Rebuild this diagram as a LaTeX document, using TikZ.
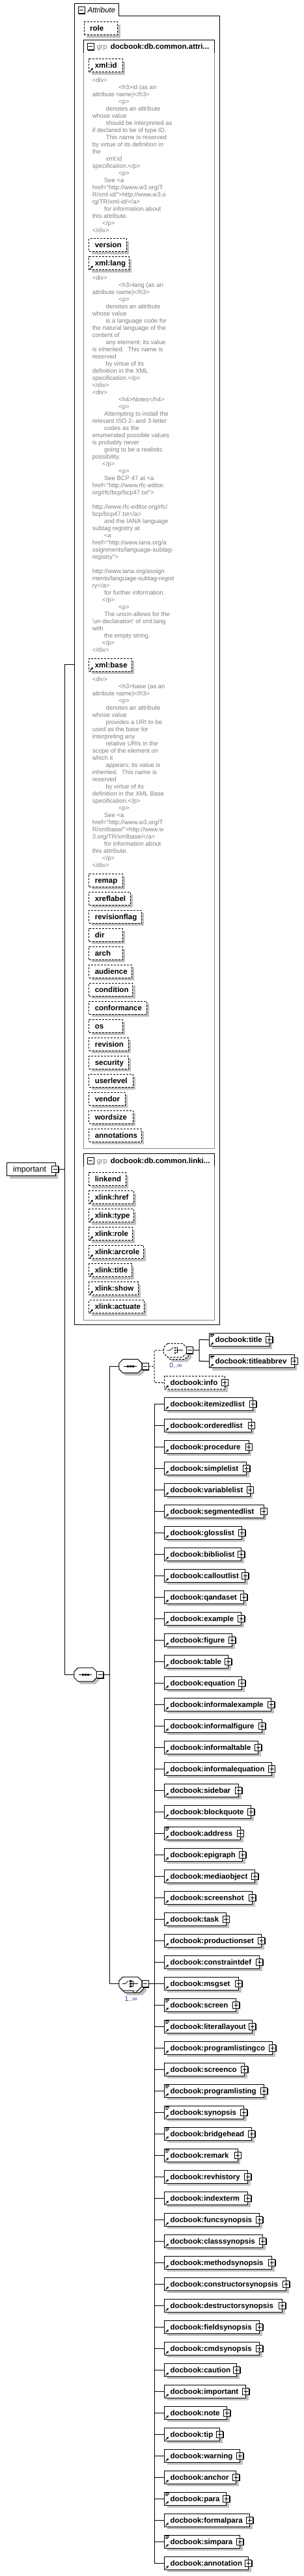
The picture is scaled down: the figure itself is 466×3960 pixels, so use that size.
\documentclass[tikz,border=0pt]{standalone}
\usepackage{fontspec}
\newfontfamily\arialf{Liberation Sans}
\usetikzlibrary{shadows,arrows.meta}
\definecolor{shgray}{RGB}{192,192,192}
\definecolor{anngray}{RGB}{128,128,128}
\definecolor{grpgray}{RGB}{136,136,136}
\definecolor{multcol}{RGB}{64,64,128}
\newcount\annc
\def\anny{0}
\def\iA{40.4}\def\iB{20.7}\def\iC{18.3}\def\iD{15.4}
\newcommand{\annstart}[1]{\def\anny{#1}}
\newcommand{\al}[2]{\global\advance\annc by 1\relax
  \node[ann] (ann\the\annc) at ({141.3+#1},{\anny+3.3}) {#2};%
  \pgfmathsetmacro\anny{\anny+11}}
\newcommand{\refarr}[1]{\draw[line width=1.1pt,-{Triangle[length=2.6pt,width=3.2pt]}] ([shift={(2.2,-2.2)}]#1.south west) -- ++(4.4,-4.4);}
\newcommand{\txticon}[1]{\draw[line width=0.7pt] ([shift={(1.5,1.7)}]#1.north west) -- ++(6,0) ([shift={(1.5,3.4)}]#1.north west) -- ++(6,0) ([shift={(1.5,5.1)}]#1.north west) -- ++(4,0);}
\newcommand{\seqicon}[1]{\begin{scope}[shift={(#1.center)}]
 \draw[line width=0.8pt] (-10,0) -- (10,0);
 \foreach \q in {-4,0,4} \fill (\q-1.4,-1.4) rectangle (\q+1.4,1.4);
 \end{scope}}
\newcommand{\choiceicon}[1]{\begin{scope}[shift={(#1.center)}]
 \draw[line width=0.8pt] (-12.5,0) -- (-7.5,0) -- (-3,-4.5);
 \foreach \q in {-4,0,4} \fill (-1.3,\q-1.3) rectangle (1.3,\q+1.3);
 \draw[line width=0.8pt] (1.5,-4) -- (3.8,-4) -- (3.8,4) -- (1.5,4) (1.5,0) -- (11.5,0);
 \end{scope}}
\newcommand{\octpath}[2]{\path[draw=black,fill=white,#2] ([xshift=6pt]#1.north west) -- ([xshift=-6pt]#1.north east) -- ([yshift=-6pt]#1.north east) -- ([yshift=6pt]#1.south east) -- ([xshift=-6pt]#1.south east) -- ([xshift=6pt]#1.south west) -- ([yshift=6pt]#1.south west) -- ([yshift=-6pt]#1.north west) -- cycle;}
\begin{document}
\begin{tikzpicture}[x=1pt,y=-1pt,line width=1pt,
 shad/.style={drop shadow={shadow xshift=4pt,shadow yshift=-4pt,fill=shgray,opacity=1}},
 elembox/.style={draw=black,fill=white,shad,inner sep=0pt,minimum height=20pt,anchor=north west},
 attrbox/.style={elembox,dash pattern=on 3pt off 2pt},
 etext/.style={anchor=base west,inner sep=0pt,font=\arialf\bfseries\fontsize{11.5}{13}\selectfont},
 rtext/.style={anchor=base west,inner sep=0pt,font=\arialf\fontsize{11.5}{13}\selectfont},
 ann/.style={anchor=base west,inner sep=0pt,text=anngray,font=\arialf\fontsize{9.5}{11}\selectfont},
 pmbox/.style={draw=black,fill=white,inner sep=0pt,minimum size=10pt,line width=0.9pt,drop shadow={shadow xshift=1pt,shadow yshift=-1pt,fill=black,opacity=1}},
 plusbox/.style={pmbox,path picture={\draw[line width=0.9pt] ([xshift=-3.2pt]path picture bounding box.center) -- ([xshift=3.2pt]path picture bounding box.center) ([yshift=-3.2pt]path picture bounding box.center) -- ([yshift=3.2pt]path picture bounding box.center);}},
 minusbox/.style={pmbox,path picture={\draw[line width=0.9pt] ([xshift=-3.2pt]path picture bounding box.center) -- ([xshift=3.2pt]path picture bounding box.center);}},
 octanchor/.style={inner sep=0pt,minimum width=34pt,minimum height=20pt},
 dsh/.style={dash pattern=on 3pt off 2pt},
 mult/.style={inner sep=0pt,text=multcol,font=\arialf\fontsize{10.5}{12}\selectfont},
]
\fill[white] (0,0) rectangle (466,3960);
\useasboundingbox (0,0) rectangle (466,3960);

% ---------- Attribute container ----------
\draw (114.3,2036.3) -- (114.3,5.3) -- (182.7,5.3) -- (182.7,24.3) -- (337.7,24.3) -- (337.7,2036.3) -- cycle;
\node[minusbox] (attm) at (125,15.7) {};
\node[rtext,font=\arialf\itshape\fontsize{11.5}{13}\selectfont] (attl) at (134,19.7) {Attribute};
\node[attrbox,minimum width=51.3pt] (role) at (128.7,33.3) {};
\node[etext] (rolet) at (137.7,47.7) {role};

% grp 1
\draw[grpgray] (128.7,81) -- (128.7,1765.3) -- (329.7,1765.3) -- (329.7,81);
\draw (128.7,81) -- (128.7,61.3) -- (329.7,61.3) -- (329.7,81);
\node[minusbox] (g1m) at (139,71.8) {};
\node[rtext,text=anngray,font=\arialf\fontsize{11}{13}\selectfont] (g1k) at (148.3,75.5) {grp};
\node[etext] (g1t) at (169.3,75.5) {docbook:db.common.attri...};

% grp 2
\draw[grpgray] (128.7,1792.7) -- (128.7,2029.3) -- (329.7,2029.3) -- (329.7,1792.7);
\draw (128.7,1792.7) -- (128.7,1773.7) -- (329.7,1773.7) -- (329.7,1792.7);
\node[minusbox] (g2m) at (139,1784.2) {};
\node[rtext,text=anngray,font=\arialf\fontsize{11}{13}\selectfont] (g2k) at (148.3,1788) {grp};
\node[etext] (g2t) at (169.3,1788) {docbook:db.common.linki...};

\foreach \ya/\rx/\nm/\fl [count=\i] in {
90.3/187.7/xml:id/1, 366.3/193.7/version/0, 394.3/197.7/xml:lang/1, 1011.7/201.7/xml:base/1,
1342.7/187.7/remap/0, 1370.7/199.7/xreflabel/0, 1398.7/216.7/revisionflag/0, 1426.7/187.7/dir/0,
1454.7/187.7/arch/0, 1482.7/201.7/audience/0, 1510.7/203/condition/0, 1538.7/224.7/conformance/0,
1566.7/187.7/os/0, 1594.7/196.7/revision/0, 1622.7/196.7/security/0, 1650.7/203.7/userlevel/0,
1678.7/191.7/vendor/0, 1706.7/203.7/wordsize/0, 1734.7/216.7/annotations/0,
1802.3/192.7/linkend/0, 1830.3/204.7/xlink:href/1, 1858.3/204.7/xlink:type/1, 1886.3/202.7/xlink:role/1,
1914.3/219.7/xlink:arcrole/1, 1942.3/201.7/xlink:title/1, 1970.3/211.7/xlink:show/1, 1998.3/220.7/xlink:actuate/1}{
  \pgfmathsetmacro\w{\rx-136.3}
  \node[attrbox,minimum width=\w pt] (ab\i) at (136.3,\ya) {};
  \node[etext] (al\i) at (145.3,\ya+14.4) {\nm};
  \ifnum\fl=1 \refarr{ab\i}\fi
}

% ---------- annotations ----------
\annstart{122.7}
\al{0}{<div>}
\al{\iA}{<h3>id (as an}
\al{0}{attribute name)</h3>}
\al{\iA}{<p>}
\al{\iB}{denotes an attribute}
\al{0}{whose value}
\al{\iB}{should be interpreted as}
\al{0}{if declared to be of type ID.}
\al{\iB}{This name is reserved}
\al{0}{by virtue of its definition in}
\al{0}{the}
\al{\iB}{xml:id}
\al{0}{specification.</p>}
\al{\iA}{<p>}
\al{\iC}{See <a}
\al{0}{href="http://www.w3.org/T}
\al{0}{R/xml-id/">http://www.w3.o}
\al{0}{rg/TR/xml-id/</a>}
\al{\iC}{for information about}
\al{0}{this attribute.}
\al{\iD}{</p>}
\al{0}{</div>}

\annstart{426.7}
\al{0}{<div>}
\al{\iA}{<h3>lang (as an}
\al{0}{attribute name)</h3>}
\al{\iA}{<p>}
\al{\iB}{denotes an attribute}
\al{0}{whose value}
\al{\iB}{is a language code for}
\al{0}{the natural language of the}
\al{0}{content of}
\al{\iB}{any element; its value}
\al{0}{is inherited.~ This name is}
\al{0}{reserved}
\al{\iB}{by virtue of its}
\al{0}{definition in the XML}
\al{0}{specification.</p>}
\al{0}{</div>}
\al{0}{<div>}
\al{\iA}{<h4>Notes</h4>}
\al{\iA}{<p>}
\al{\iC}{Attempting to install the}
\al{0}{relevant ISO 2- and 3-letter}
\al{\iC}{codes as the}
\al{0}{enumerated possible values}
\al{0}{is probably never}
\al{\iC}{going to be a realistic}
\al{0}{possibility.}
\al{\iD}{</p>}
\al{\iA}{<p>}
\al{\iC}{See BCP 47 at <a}
\al{0}{href="http://www.rfc-editor.}
\al{0}{org/rfc/bcp/bcp47.txt">}
\al{0}{}
\al{0}{http://www.rfc-editor.org/rfc/}
\al{0}{bcp/bcp47.txt</a>}
\al{\iC}{and the IANA language}
\al{0}{subtag registry at}
\al{\iC}{<a}
\al{0}{href="http://www.iana.org/a}
\al{0}{ssignments/language-subtag-}
\al{0}{registry">}
\al{0}{}
\al{0}{http://www.iana.org/assign}
\al{0}{ments/language-subtag-regist}
\al{0}{ry</a>}
\al{\iC}{for further information.}
\al{\iD}{</p>}
\al{\iA}{<p>}
\al{\iC}{The union allows for the}
\al{0}{'un-declaration' of xml:lang}
\al{0}{with}
\al{\iC}{the empty string.}
\al{\iD}{</p>}
\al{0}{</div>}

\annstart{1043.7}
\al{0}{<div>}
\al{\iA}{<h3>base (as an}
\al{0}{attribute name)</h3>}
\al{\iA}{<p>}
\al{\iB}{denotes an attribute}
\al{0}{whose value}
\al{\iB}{provides a URI to be}
\al{0}{used as the base for}
\al{0}{interpreting any}
\al{\iB}{relative URIs in the}
\al{0}{scope of the element on}
\al{0}{which it}
\al{\iB}{appears; its value is}
\al{0}{inherited.~ This name is}
\al{0}{reserved}
\al{\iB}{by virtue of its}
\al{0}{definition in the XML Base}
\al{0}{specification.</p>}
\al{\iA}{<p>}
\al{\iC}{See <a}
\al{0}{href="http://www.w3.org/T}
\al{0}{R/xmlbase/">http://www.w}
\al{0}{3.org/TR/xmlbase/</a>}
\al{\iC}{for information about}
\al{0}{this attribute.}
\al{\iD}{</p>}
\al{0}{</div>}

% ---------- important ----------
\node[elembox,minimum width=74.4pt] (imp) at (10.3,1787) {};
\node[rtext,font=\arialf\fontsize{12.3}{14}\selectfont] (impl) at (19.3,1801.2) {important};
\node[minusbox] (impm) at (84.7,1797.3) {};

% ---------- sequence ----------
\node[octanchor] (seq) at (131.3,2574.3) {};
\octpath{seq}{shad}
\seqicon{seq}
\node[minusbox] (seqm) at (153.8,2574.5) {};

\node[octanchor] (sub) at (200.3,2100.2) {};
\octpath{sub}{shad}
\seqicon{sub}
\node[minusbox] (subm) at (223,2100.5) {};

% optional choice 0..inf
\node[octanchor] (optb) at (272.3,2079) {};
\octpath{optb}{dsh,shad}
\node[octanchor] (opt) at (269,2075.8) {};
\octpath{opt}{dsh}
\choiceicon{opt}
\node[minusbox] (optm) at (291.3,2075.8) {};
\node[mult] (m0) at (270,2099.3) {0..∞};

% title / titleabbrev / info
\node[elembox,minimum width=92.4pt] (ti) at (321.3,2049.3) {};
\node[etext] (til) at (330,2063.7) {docbook:title};
\node[plusbox] (tip) at (413.8,2059.3) {};
\refarr{ti}\txticon{ti}
\node[elembox,minimum width=130.4pt] (tia) at (321.3,2082.3) {};
\node[etext] (tial) at (330,2096.7) {docbook:titleabbrev};
\node[plusbox] (tiap) at (452,2092.3) {};
\refarr{tia}\txticon{tia}
\node[attrbox,minimum width=92.7pt] (inf) at (252.3,2115.3) {};
\node[etext] (infl) at (261,2129.7) {docbook:info};
\node[plusbox] (infp) at (345.2,2125.3) {};
\refarr{inf}

% main choice 1..inf
\node[octanchor] (chb) at (203.3,3052.5) {};
\octpath{chb}{shad}
\node[octanchor] (ch) at (200.3,3049.5) {};
\octpath{ch}{}
\choiceicon{ch}
\draw[line width=0.8pt,fill=white] (203.5,3059.8) -- (207.7,3063.8) -- (212,3059.8);
\node[minusbox] (chm) at (223,3049.5) {};
\node[mult] (m1) at (201.3,3073.3) {1..∞};

% ---------- element list ----------
\coordinate (t5a) at (237,2158.3);
\coordinate (t5b) at (237,3940.3);
\draw (t5a) -- (t5b);
\foreach \rx/\nm/\fl [count=\i] in {
388.3/itemizedlist/0, 385.7/orderedlist/0, 381.7/procedure/0, 378.3/simplelist/0, 383.7/variablelist/0,
404.7/segmentedlist/0, 371.3/glosslist/0, 370.3/bibliolist/0, 376.3/calloutlist/0, 374.3/qandaset/0,
370.3/example/0, 356.3/figure/0, 350.3/table/0, 371.3/equation/0, 416.3/informalexample/0,
402.3/informalfigure/0, 396.3/informaltable/0, 417/informalequation/0, 366.3/sidebar/0, 385.3/blockquote/0,
369/address/1, 372.3/epigraph/0, 391.3/mediaobject/0, 387.3/screenshot/0, 347/task/0,
401.3/productionset/0, 398.3/constraintdef/0, 366.3/msgset/0, 362.3/screen/1, 387.3/literallayout/1,
418.3/programlistingco/0, 375.3/screenco/0, 405.3/programlisting/1, 374.3/synopsis/1, 386.3/bridgehead/1,
364.7/remark/1, 380.3/revhistory/0, 380.3/indexterm/0, 398.3/funcsynopsis/0, 403.3/classsynopsis/0,
417.3/methodsynopsis/0, 439.3/constructorsynopsis/0, 433.3/destructorsynopsis/0, 398.3/fieldsynopsis/0, 398.3/cmdsynopsis/0,
363.3/caution/0, 377.3/important/0, 348.3/note/0, 337.3/tip/0, 368.3/warning/0,
362.3/anchor/0, 347.3/para/1, 383.3/formalpara/0, 368.3/simpara/1, 381.3/annotation/0}{
  \pgfmathsetmacro\yc{2158.3+33*(\i-1)}
  \pgfmathsetmacro\w{\rx-252.3}
  \node[elembox,minimum width=\w pt,anchor=west] (e\i) at (252.3,\yc) {};
  \node[etext] (el\i) at (261,\yc+4.4) {docbook:\nm};
  \node[plusbox] (ep\i) at (\rx+0.4,\yc) {};
  \refarr{e\i}
  \ifnum\fl=1 \txticon{e\i}\fi
  \draw (e\i.west) -- (e\i.west -| t5a);
}

% ---------- connectors ----------
\coordinate (attin) at (114.3,1021.3);
\coordinate (t1a) at (99.7,1021.3);
\coordinate (t1b) at (99.7,2574.3);
\draw (attin) -- (t1a) -- (t1b) -- (seq.west);
\draw (impm.east) -- (impm.east -| t1a);
\coordinate (t2a) at (168.7,2100.2);
\coordinate (t2b) at (168.7,3049.5);
\draw (seqm.east) -- (seqm.east -| t2a);
\draw (sub.west) -- (t2a) -- (t2b) -- (ch.west);
\coordinate (t3a) at (237,2075.8);
\coordinate (t3b) at (237,2125.3);
\draw[dsh] (subm.east) -- (subm.east -| t3a);
\draw[dsh] (opt.west) -- (t3a) -- (t3b) -- (inf.west);
\coordinate (t4a) at (306,2059.3);
\coordinate (t4b) at (306,2092.3);
\draw (optm.east) -- (optm.east -| t4a);
\draw (ti.west) -- (t4a) -- (t4b) -- (tia.west);
\draw (chm.east) -- (chm.east -| t5a);
\end{tikzpicture}
\end{document}
